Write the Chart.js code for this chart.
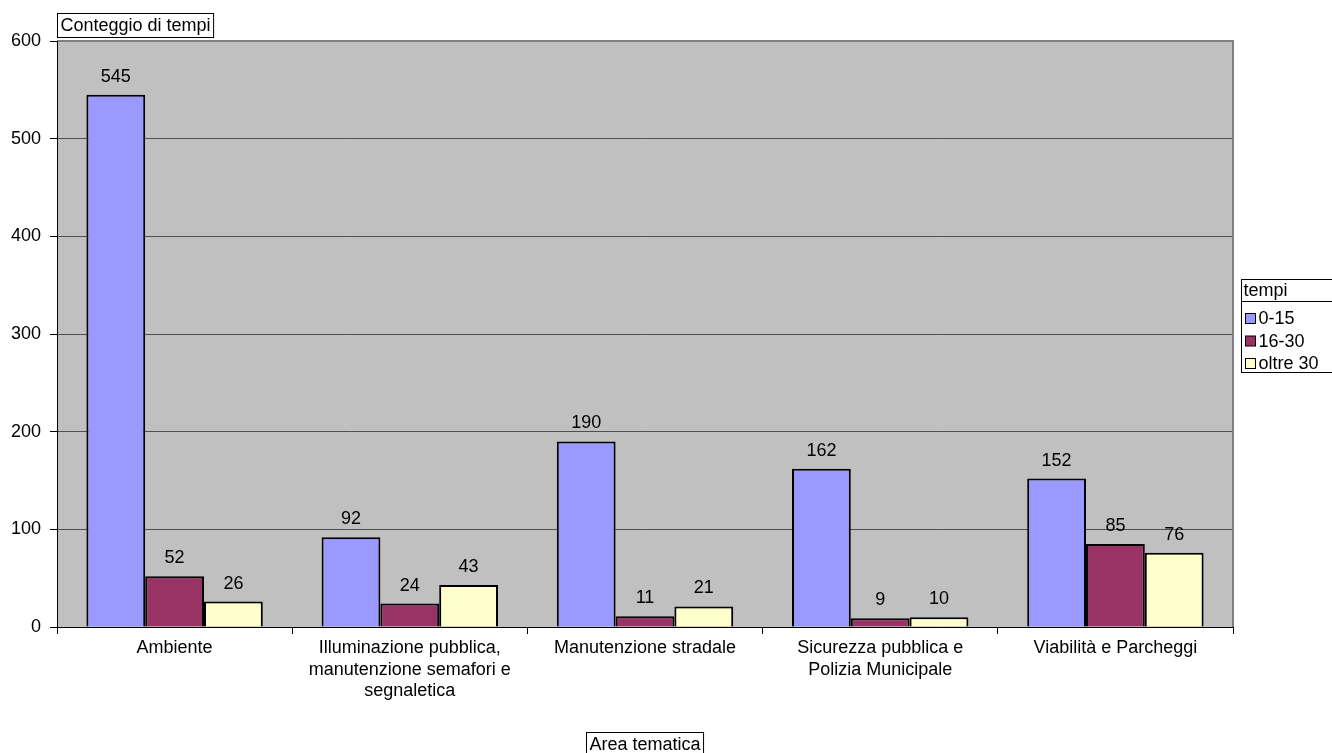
<!DOCTYPE html>
<html>
<head>
<meta charset="utf-8">
<script src="https://cdn.jsdelivr.net/npm/chart.js@4"></script>
<style>
  html, body { margin: 0; padding: 0; background: #fff; }
  #wrap { width: 1332px; height: 753px; position: relative; }
</style>
</head>
<body>
<div id="wrap"><canvas id="chart"></canvas></div>
<script>
// categorie e valori
const categories = [
    'Ambiente',
    ['Illuminazione pubblica,', 'manutenzione semafori e', 'segnaletica'],
    'Manutenzione stradale',
    ['Sicurezza pubblica e', 'Polizia Municipale'],
    'Viabilità e Parcheggi'
];
const seriesNames = ['0-15', '16-30', 'oltre 30'];
const values0to15 = [545, 92, 190, 162, 152];
const values16to30 = [52, 24, 11, 9, 85];
const valuesOltre30 = [26, 43, 21, 10, 76];
const yTicks = [0, 100, 200, 300, 400, 500, 600];

const FONT = '"Liberation Sans", Arial, sans-serif';
const SIZE = 18;

// sfondo grigio, etichette, titoli e legenda
const decor = {
    id: 'decor',
    beforeDraw(chart) {
        const { ctx, chartArea: a } = chart;
        ctx.save();
        ctx.fillStyle = '#C0C0C0';
        ctx.fillRect(a.left, a.top, a.right - a.left, a.bottom - a.top);
        ctx.restore();
    },
    afterDraw(chart) {
        const { ctx, chartArea: a } = chart;
        ctx.save();
        // bordo area
        ctx.strokeStyle = '#808080';
        ctx.lineWidth = 2;
        ctx.beginPath();
        ctx.moveTo(a.left, a.top);
        ctx.lineTo(a.right, a.top);
        ctx.lineTo(a.right, a.bottom);
        ctx.stroke();
        ctx.strokeStyle = '#000';
        ctx.lineWidth = 1;
        ctx.beginPath();
        ctx.moveTo(a.left + 0.5, a.top);
        ctx.lineTo(a.left + 0.5, a.bottom);
        ctx.stroke();

        // valori sopra le barre
        ctx.font = SIZE + 'px ' + FONT;
        ctx.fillStyle = '#000';
        ctx.textAlign = 'center';
        ctx.textBaseline = 'bottom';
        chart.data.datasets.forEach((ds, i) => {
            chart.getDatasetMeta(i).data.forEach((bar, j) => {
                ctx.fillText(String(ds.data[j]), bar.x, bar.y - 9);
            });
        });

        // titolo asse y
        ctx.textAlign = 'left';
        ctx.textBaseline = 'middle';
        const t1 = 'Conteggio di tempi';
        const w1 = ctx.measureText(t1).width;
        ctx.fillStyle = '#fff';
        ctx.fillRect(57.5, 13.5, w1 + 6, 24);
        ctx.strokeStyle = '#000';
        ctx.strokeRect(57.5, 13.5, w1 + 6, 24);
        ctx.fillStyle = '#000';
        ctx.fillText(t1, 60.5, 26);

        // titolo asse x
        const t2 = 'Area tematica';
        const w2 = ctx.measureText(t2).width;
        const cx = (a.left + a.right) / 2;
        const bx = Math.round(cx - w2 / 2 - 3) + 0.5;
        ctx.fillStyle = '#fff';
        ctx.fillRect(bx, 732.5, w2 + 6, 24);
        ctx.strokeRect(bx, 732.5, w2 + 6, 24);
        ctx.fillStyle = '#000';
        ctx.fillText(t2, bx + 3, 745);

        // legenda
        const lx = 1241.5, ly = 279.5;
        ctx.strokeStyle = '#000';
        ctx.strokeRect(lx, ly, 100, 93);
        ctx.beginPath();
        ctx.moveTo(lx, ly + 22);
        ctx.lineTo(lx + 100, ly + 22);
        ctx.stroke();
        ctx.fillText('tempi', lx + 2, ly + 12);
        chart.data.datasets.forEach((ds, i) => {
            const y = ly + 39 + i * 22.5;
            ctx.fillStyle = ds.backgroundColor;
            ctx.fillRect(lx + 4, y - 5, 10, 10);
            ctx.strokeStyle = '#000';
            ctx.strokeRect(lx + 4, y - 5, 10, 10);
            ctx.fillStyle = '#000';
            ctx.fillText(ds.label, lx + 17, y + 1);
        });
        ctx.restore();
    }
};

const ctx = document.getElementById('chart').getContext('2d');
new Chart(ctx, {
    type: 'bar',
    data: {
        labels: categories,
        datasets: [
            { label: seriesNames[0], data: values0to15, backgroundColor: '#9999FF' },
            { label: seriesNames[1], data: values16to30, backgroundColor: '#993366' },
            { label: seriesNames[2], data: valuesOltre30, backgroundColor: '#FFFFCC' }
        ].map(d => Object.assign(d, {
            borderColor: '#000',
            borderWidth: 2,
            categoryPercentage: 0.75,
            barPercentage: 1
        }))
    },
    options: {
        responsive: true,
        maintainAspectRatio: false,
        animation: false,
        layout: { padding: { top: 41, right: 99, bottom: 0, left: 0 } },
        plugins: {
            legend: { display: false },
            tooltip: { enabled: false }
        },
        scales: {
            x: {
                offset: true,
                grid: {
                    offset: true,
                    drawOnChartArea: false,
                    color: '#000',
                    tickLength: 7
                },
                border: { color: '#000', width: 1 },
                ticks: {
                    color: '#000',
                    font: { family: FONT, size: SIZE, lineHeight: 1.17 },
                    maxRotation: 0,
                    autoSkip: false,
                    padding: 4
                },
                afterFit(scale) { scale.height = 126; }
            },
            y: {
                min: 0,
                max: 600,
                afterBuildTicks(scale) { scale.ticks = yTicks.map(v => ({ value: v })); },
                grid: {
                    color: '#505050',
                    tickColor: '#000',
                    tickLength: 7
                },
                border: { color: '#000', width: 1 },
                ticks: {
                    color: '#000',
                    font: { family: FONT, size: SIZE },
                    padding: 9
                },
                afterFit(scale) { scale.width = 57; }
            }
        }
    },
    plugins: [decor]
});
</script>
</body>
</html>
